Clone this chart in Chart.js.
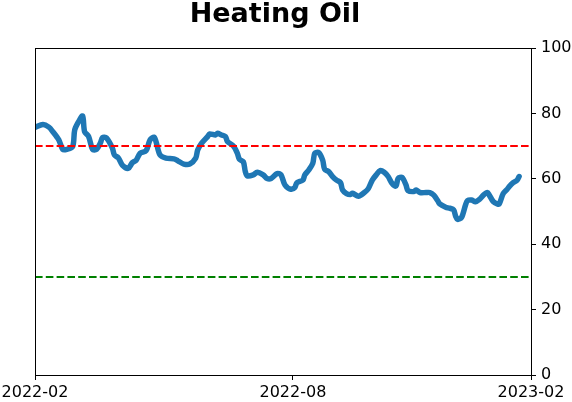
<!DOCTYPE html>
<html>
<head>
<meta charset="utf-8">
<script src="https://cdn.jsdelivr.net/npm/chart.js@4/dist/chart.umd.min.js"></script>
<style>
html,body{margin:0;padding:0;background:#fff;}
#wrap{width:572px;height:402px;position:relative;}
</style>
</head>
<body>
<div id="wrap"><canvas id="c" width="572" height="402"></canvas></div>
<script>
const titleText = 'Heating Oil';
const dayIndex = [0,4,7,9,12,14,16,19,20,22,24,25,27,29,31,33,34,36,39,40,42,44,47,49,51,53,56,58,60,61,63,66,70,72,75,78,81,82,84,87,88,91,92,94,96,97,100,102,103,105,106,107,110,112,115,117,119,122,124,126,129,131,132,135,136,138,140,141,143,145,146,148,150,152,154,155,157,159,160,163,166,168,170,172,174,176,178,180,182,183,185,187,188,191,192,194,197,199,201,203,204,207,209,211,212,213,215,217,218,220,222,224,226,228,229,231,233,234,236,238,239,241,243,244];
const values = [75.7,76.6,75.8,74.4,71.9,69,69,69.9,74.9,77.5,79.2,74.4,73,69,69,71,72.6,72.5,69.4,67.3,66.4,64.2,63.2,64.9,65.7,67.8,68.6,71.9,72.7,71.4,67.3,66.3,66.1,65.5,64.5,64.5,66.3,68.8,70.9,72.9,73.7,73.4,73.9,73.4,72.9,71.4,70,67.8,66,65.2,62.2,60.9,61.2,62,61.2,60.1,60.1,61.6,61.2,58.1,56.8,57.4,58.8,59.6,61.2,62.7,64.7,67.8,68,65.7,62.9,62.2,60.7,59.6,58.8,56.6,55.5,55.2,55.6,54.7,55.8,57,59.6,61.2,62.5,62,60.7,58.6,57.8,60.1,60.4,58.1,56.4,56.1,56.6,55.8,55.8,55.8,55,53.3,52.3,51.3,51,50.5,48.6,47.6,48.2,52,53.3,53.5,53,53.7,55,55.8,55,53,52.3,52.3,55.5,56.8,57.6,58.8,59.6,60.7];
const tickPositions = [0,130,250];
const tickLabels = ['2022-02','2022-08','2023-02'];
const yTicks = [0,20,40,60,80,100];
const upperLevel = 70;
const lowerLevel = 30;
const xMin = 0, xMax = 250;

const linePoints = dayIndex.map((d,i)=>({x:d,y:values[i]}));

const framePlugin = {
  id:'frame',
  afterDraw(chart){
    const {ctx, chartArea:a} = chart;
    ctx.save();
    ctx.strokeStyle = '#000';
    ctx.lineWidth = 1;
    ctx.strokeRect(a.left+0.5, a.top+0.5, a.right-a.left, a.bottom-a.top);
    ctx.fillStyle = '#000';
    ctx.font = 'bold 27px "DejaVu Sans"';
    ctx.textAlign = 'center';
    ctx.textBaseline = 'alphabetic';
    ctx.fillText(titleText, 275, 22);
    ctx.restore();
  }
};

new Chart(document.getElementById('c'), {
  type:'line',
  data:{
    datasets:[
      {data:[{x:xMin,y:upperLevel},{x:xMax,y:upperLevel}], borderColor:'#ff0000', borderWidth:2, borderDash:[7.6,3.2], pointRadius:0, fill:false},
      {data:[{x:xMin,y:lowerLevel},{x:xMax,y:lowerLevel}], borderColor:'#008000', borderWidth:2, borderDash:[7.6,3.2], pointRadius:0, fill:false},
      {data:linePoints, borderColor:'#1f77b4', borderWidth:5.5, pointRadius:0, tension:0.3, fill:false, borderCapStyle:'round', borderJoinStyle:'round'}
    ]
  },
  options:{
    responsive:false,
    animation:false,
    devicePixelRatio:1,
    layout:{padding:{left:35,top:48,right:0,bottom:0}},
    plugins:{legend:{display:false},tooltip:{enabled:false},title:{display:false}},
    scales:{
      x:{
        type:'linear', min:xMin, max:xMax,
        afterBuildTicks(s){ s.ticks = tickPositions.map(v=>({value:v})); },
        afterFit(s){ s.height = 27; s.paddingLeft = 0; s.paddingRight = 0; },
        grid:{display:true, drawOnChartArea:false, drawTicks:true, tickLength:5, color:'#000'},
        border:{display:true,color:'#000'},
        ticks:{color:'#000', font:{family:'DejaVu Sans', size:16}, padding:3, maxRotation:0, autoSkip:false,
          callback(v){ const i = tickPositions.indexOf(v); return i>=0 ? tickLabels[i] : ''; }}
      },
      y:{
        position:'right', min:0, max:100,
        afterBuildTicks(s){ s.ticks = yTicks.map(v=>({value:v})); },
        afterFit(s){ s.width = 41; s.paddingTop = 0; s.paddingBottom = 0; },
        grid:{display:true, drawOnChartArea:false, drawTicks:true, tickLength:5, color:'#000'},
        border:{display:true,color:'#000'},
        ticks:{color:'#000', font:{family:'DejaVu Sans', size:16}, padding:5}
      }
    }
  },
  plugins:[framePlugin]
});
</script>
</body>
</html>
